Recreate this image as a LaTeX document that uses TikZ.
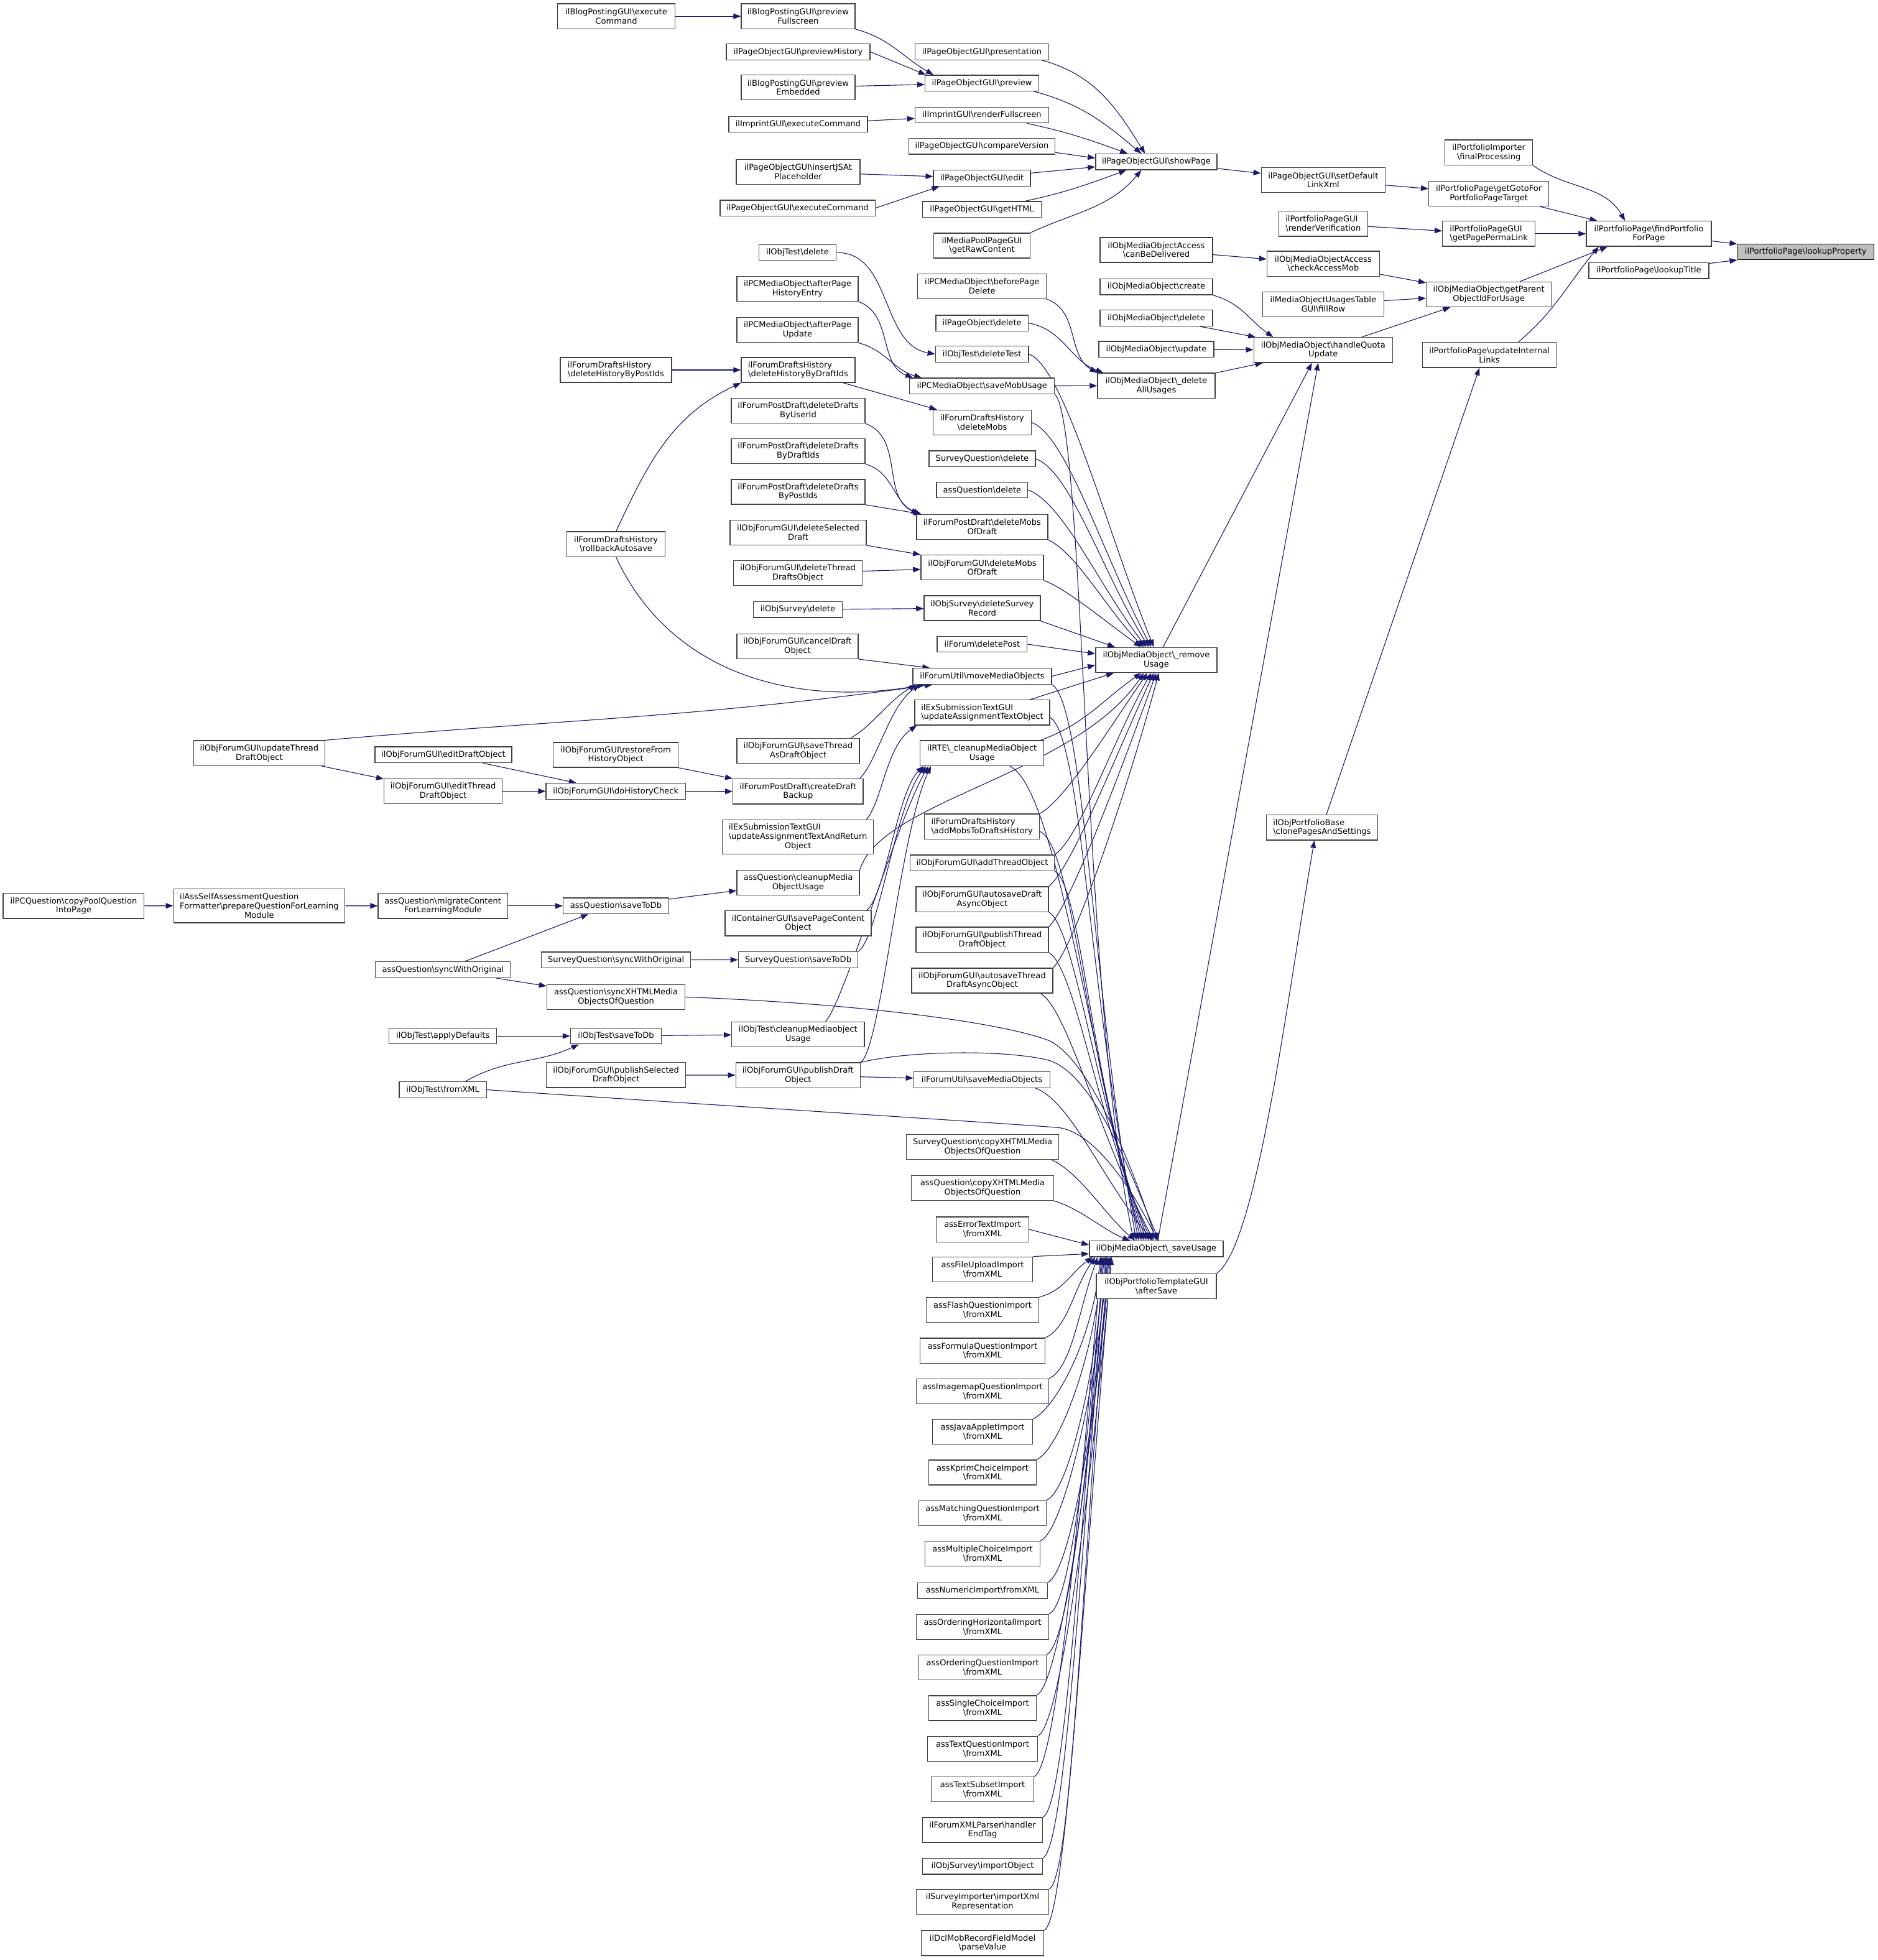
\documentclass[tikz,border=0pt]{standalone}
\usepackage{fontspec}
\setmainfont{DejaVu Sans}
\usetikzlibrary{arrows.meta}
\pgfdeclarelayer{bg}
\pgfdeclarelayer{edges}
\pgfsetlayers{bg,edges,main}
\definecolor{edgec}{HTML}{191970}
\definecolor{boxc}{HTML}{404040}
\definecolor{rootc}{HTML}{BFBFBF}
\newcommand{\BSL}{\textbackslash{}}
\newcommand{\LLn}[2]{\rlap{#1}\phantom{#2}\\#2}
\newcommand{\nd}[6]{\node[bx,#1,minimum width=#5pt] (#2) at (#3,#4) {#6};}
\tikzset{
  bx/.style={draw=boxc, line width=0.65pt, fill=white, font=\fontsize{6.5}{7.3}\selectfont,
    align=center, inner xsep=1pt, inner ysep=0.5pt, text=black},
  h1/.style={minimum height=12.7pt},
  h2/.style={minimum height=20pt},
  h3/.style={minimum height=27.3pt},
  edg/.style={draw=edgec, line width=0.55pt, -{Triangle[length=6pt,width=4.4pt]}},
}
\begin{document}
\begin{tikzpicture}[x=1pt,y=-1pt]
\useasboundingbox (0,0) rectangle (1502,1568);
\begin{pgfonlayer}{bg}
\fill[white] (0,0) rectangle (1502,1568);
\end{pgfonlayer}

% ---------- right cluster
\nd{h1,fill=rootc,draw=black}{lp}{1444.5}{201.5}{109}{ilPortfolioPage\BSL lookupProperty}
\nd{h2}{find}{1319}{187}{100}{ilPortfolioPage\BSL findPortfolio\\ForPage}
\nd{h1}{lt}{1319}{216.5}{96}{ilPortfolioPage\BSL lookupTitle}
\nd{h2}{fp}{1191}{122}{70}{ilPortfolioImporter\\\BSL finalProcessing}
\nd{h2}{gg}{1191}{155}{96}{ilPortfolioPage\BSL getGotoFor\\PortfolioPageTarget}
\nd{h2}{gpl}{1191}{187}{74}{\LLn{ilPortfolioPageGUI}{\BSL getPagePermaLink}}
\nd{h2}{gp}{1191}{235.5}{100}{ilObjMediaObject\BSL getParent\\ObjectIdForUsage}
\nd{h2}{uil}{1191.5}{284}{107}{ilPortfolioPage\BSL updateInternal\\Links}
\nd{h2}{sdl}{1058.5}{144}{99}{ilPageObjectGUI\BSL setDefault\\LinkXml}
\nd{h2}{rv}{1058.5}{179}{71}{\LLn{ilPortfolioPageGUI}{\BSL renderVerification}}
\nd{h2}{cam}{1058.5}{211}{90}{ilObjMediaObjectAccess\\\BSL checkAccessMob}
\nd{h2}{fr}{1058.5}{243.5}{97}{ilMediaObjectUsagesTable\\GUI\BSL fillRow}
\nd{h2}{hq}{1058.5}{280}{111}{ilObjMediaObject\BSL handleQuota\\Update}
\nd{h2}{cps}{1057.5}{662}{89}{\LLn{ilObjPortfolioBase}{\BSL clonePagesAndSettings}}

% ---------- column 925
\nd{h1}{sp}{925}{129.5}{97}{ilPageObjectGUI\BSL showPage}
\nd{h2}{cbd}{925}{200}{90}{ilObjMediaObjectAccess\\\BSL canBeDelivered}
\nd{h1}{cr}{925}{229.5}{90}{ilObjMediaObject\BSL create}
\nd{h1}{dl}{925}{254.5}{90}{ilObjMediaObject\BSL delete}
\nd{h1}{up}{925}{279.5}{92}{ilObjMediaObject\BSL update}
\nd{h2}{da}{925}{308.5}{94}{ilObjMediaObject\BSL\_delete\\AllUsages}
\nd{h2}{rem}{925}{528}{97}{ilObjMediaObject\BSL\_remove\\Usage}
\nd{h1}{sav}{925}{999}{107}{ilObjMediaObject\BSL\_saveUsage}
\nd{h2}{as}{925}{1029}{96}{ilObjPortfolioTemplateGUI\\\BSL afterSave}

% ---------- column 786
\nd{h1}{pres}{785.5}{41.5}{107}{ilPageObjectGUI\BSL presentation}
\nd{h1}{pv}{785.5}{66.5}{91}{ilPageObjectGUI\BSL preview}
\nd{h1}{rf}{785.5}{92}{107}{ilImprintGUI\BSL renderFullscreen}
\nd{h1}{cv}{785.5}{117}{117}{ilPageObjectGUI\BSL compareVersion}
\nd{h1}{ed}{785.5}{142.5}{77.5}{ilPageObjectGUI\BSL edit}
\nd{h1}{gh}{785.5}{167.5}{95}{ilPageObjectGUI\BSL getHTML}
\nd{h2}{rc}{785.5}{196.5}{77}{ilMediaPoolPageGUI\\\BSL getRawContent}
\nd{h2}{bpd}{785.6}{229}{103}{ilPCMediaObject\BSL beforePage\\Delete}
\nd{h1}{pd}{785.6}{258.5}{74}{ilPageObject\BSL delete}
\nd{h1}{dt}{785.6}{283.3}{74.5}{ilObjTest\BSL deleteTest}
\nd{h1}{smu}{785.6}{308.8}{116}{ilPCMediaObject\BSL saveMobUsage}
\nd{h2}{dm}{785.7}{338}{78.5}{ilForumDraftsHistory\\\BSL deleteMobs}
\nd{h1}{sqd}{785.7}{367}{85}{SurveyQuestion\BSL delete}
\nd{h1}{aqd}{785.7}{392}{73}{assQuestion\BSL delete}
\nd{h2}{dmpd}{785.7}{421.5}{105}{ilForumPostDraft\BSL deleteMobs\\OfDraft}
\nd{h2}{dmfg}{785.7}{454}{98}{ilObjForumGUI\BSL deleteMobs\\OfDraft}
\nd{h2}{dsr}{785.7}{486.5}{93}{ilObjSurvey\BSL deleteSurvey\\Record}
\nd{h1}{dp}{785.7}{515.4}{72}{ilForum\BSL deletePost}
\nd{h1}{mmo}{785.7}{541}{111}{ilForumUtil\BSL moveMediaObjects}
\nd{h2}{uat}{785.7}{570}{108}{\LLn{ilExSubmissionTextGUI}{\BSL updateAssignmentTextObject}}
\nd{h2}{cmu}{785.6}{602.5}{99}{ilRTE\BSL\_cleanupMediaObject\\Usage}
\nd{h2}{amd}{785.6}{661.2}{92}{\LLn{ilForumDraftsHistory}{\BSL addMobsToDraftsHistory}}
\nd{h1}{ato}{785.8}{690.3}{115.5}{ilObjForumGUI\BSL addThreadObject}
\nd{h2}{ada}{785.7}{719.4}{106}{ilObjForumGUI\BSL autosaveDraft\\AsyncObject}
\nd{h2}{ptd}{785.7}{751.7}{106}{ilObjForumGUI\BSL publishThread\\DraftObject}
\nd{h2}{ata}{785.7}{784.5}{113}{ilObjForumGUI\BSL autosaveThread\\DraftAsyncObject}
\nd{h1}{smo}{785.5}{863.8}{109}{ilForumUtil\BSL saveMediaObjects}
\nd{h2}{cxs}{786}{917.5}{122}{SurveyQuestion\BSL copyXHTMLMedia\\ObjectsOfQuestion}
\nd{h2}{cxa}{786}{950.5}{114}{assQuestion\BSL copyXHTMLMedia\\ObjectsOfQuestion}
\nd{h2}{aet}{786}{983.5}{74}{assErrorTextImport\\\BSL fromXML}
\nd{h2}{afu}{786}{1015.5}{80}{assFileUploadImport\\\BSL fromXML}
\nd{h2}{afq}{786}{1048}{90}{assFlashQuestionImport\\\BSL fromXML}
\nd{h2}{afo}{786}{1080.5}{100}{assFormulaQuestionImport\\\BSL fromXML}
\nd{h2}{aim}{786}{1113}{106}{assImagemapQuestionImport\\\BSL fromXML}
\nd{h2}{aja}{786}{1145.5}{80}{assJavaAppletImport\\\BSL fromXML}
\nd{h2}{akp}{786}{1178}{86}{assKprimChoiceImport\\\BSL fromXML}
\nd{h2}{ama}{786}{1210.5}{102}{assMatchingQuestionImport\\\BSL fromXML}
\nd{h2}{amc}{786}{1243}{92}{assMultipleChoiceImport\\\BSL fromXML}
\nd{h1}{anu}{786}{1272.5}{104}{assNumericImport\BSL fromXML}
\nd{h2}{aoh}{786}{1301.5}{106}{assOrderingHorizontalImport\\\BSL fromXML}
\nd{h2}{aoq}{786}{1334}{102}{assOrderingQuestionImport\\\BSL fromXML}
\nd{h2}{asc}{786}{1366.5}{86}{assSingleChoiceImport\\\BSL fromXML}
\nd{h2}{atq}{786}{1399}{88}{assTextQuestionImport\\\BSL fromXML}
\nd{h2}{ats}{786}{1431.5}{82}{assTextSubsetImport\\\BSL fromXML}
\nd{h2}{fxp}{786}{1464}{96}{ilForumXMLParser\BSL handler\\EndTag}
\nd{h1}{osi}{786}{1493}{96}{ilObjSurvey\BSL importObject}
\nd{h2}{sim}{786}{1521.5}{106}{ilSurveyImporter\BSL importXml\\Representation}
\nd{h2}{dcl}{786}{1554.5}{98}{ilDclMobRecordFieldModel\\\BSL parseValue}

% ---------- column 638
\nd{h2}{pf}{638.5}{13}{91}{ilBlogPostingGUI\BSL preview\\Fullscreen}
\nd{h1}{ph}{638.5}{41.5}{115}{ilPageObjectGUI\BSL previewHistory}
\nd{h2}{pe}{638.5}{70}{91}{ilBlogPostingGUI\BSL preview\\Embedded}
\nd{h1}{ie}{638.5}{99.5}{111}{ilImprintGUI\BSL executeCommand}
\nd{h2}{ij}{638.5}{137.5}{99}{ilPageObjectGUI\BSL insertJSAt\\Placeholder}
\nd{h1}{pec}{638}{166.5}{124}{ilPageObjectGUI\BSL executeCommand}
\nd{h1}{otd}{638}{202}{62}{ilObjTest\BSL delete}
\nd{h2}{aphe}{638}{231}{97}{ilPCMediaObject\BSL afterPage\\HistoryEntry}
\nd{h2}{apu}{638}{264}{97}{ilPCMediaObject\BSL afterPage\\Update}
\nd{h2}{dhd}{638.5}{296}{91}{\LLn{ilForumDraftsHistory}{\BSL deleteHistoryByDraftIds}}
\nd{h2}{ddu}{638.5}{328.5}{107}{ilForumPostDraft\BSL deleteDrafts\\ByUserId}
\nd{h2}{ddd}{638.5}{361}{107}{ilForumPostDraft\BSL deleteDrafts\\ByDraftIds}
\nd{h2}{ddp}{638.5}{393.5}{107}{ilForumPostDraft\BSL deleteDrafts\\ByPostIds}
\nd{h2}{dsd}{638.5}{426}{109}{ilObjForumGUI\BSL deleteSelected\\Draft}
\nd{h2}{dtd}{638.3}{458.5}{103}{ilObjForumGUI\BSL deleteThread\\DraftsObject}
\nd{h1}{osd}{638.3}{487.6}{71}{ilObjSurvey\BSL delete}
\nd{h2}{cdo}{638}{517}{97}{ilObjForumGUI\BSL cancelDraft\\Object}
\nd{h2}{stad}{638.5}{600.6}{98}{ilObjForumGUI\BSL saveThread\\AsDraftObject}
\nd{h2}{cdb}{638.4}{633.2}{104}{ilForumPostDraft\BSL createDraft\\Backup}
\nd{h3}{uatr}{638.3}{669.5}{121}{\LLn{ilExSubmissionTextGUI}{\BSL updateAssignmentTextAndReturn}\\Object}
\nd{h2}{acmu}{638.5}{706.2}{98}{assQuestion\BSL cleanupMedia\\ObjectUsage}
\nd{h2}{spc}{638.5}{738.6}{117}{ilContainerGUI\BSL savePageContent\\Object}
\nd{h1}{sqsd}{638.5}{767.8}{95.6}{SurveyQuestion\BSL saveToDb}
\nd{h2}{otcm}{638.4}{827.4}{106}{ilObjTest\BSL cleanupMediaobject\\Usage}
\nd{h2}{pdo}{638.4}{860.2}{99.6}{ilObjForumGUI\BSL publishDraft\\Object}

% ---------- column 493
\nd{h2}{be}{493}{13}{94}{ilBlogPostingGUI\BSL execute\\Command}
\nd{h2}{dhp}{492.7}{296}{89}{\LLn{ilForumDraftsHistory}{\BSL deleteHistoryByPostIds}}
\nd{h2}{ra}{492.8}{435.4}{78.5}{ilForumDraftsHistory\\\BSL rollbackAutosave}
\nd{h2}{rfh}{492.6}{603.9}{100}{ilObjForumGUI\BSL restoreFrom\\HistoryObject}
\nd{h1}{dhc}{492.6}{633}{111.6}{ilObjForumGUI\BSL doHistoryCheck}
\nd{h1}{aqsd}{492.7}{724.7}{84.3}{assQuestion\BSL saveToDb}
\nd{h1}{sqs}{492.8}{767.9}{119.3}{SurveyQuestion\BSL syncWithOriginal}
\nd{h2}{sxm}{492.8}{797.6}{110.5}{assQuestion\BSL syncXHTMLMedia\\ObjectsOfQuestion}
\nd{h1}{otsd}{492.7}{828.8}{72.6}{ilObjTest\BSL saveToDb}
\nd{h2}{psd}{492.8}{860}{111.3}{ilObjForumGUI\BSL publishSelected\\DraftObject}

% ---------- column 354
\nd{h1}{edo}{354.7}{603.8}{109.4}{ilObjForumGUI\BSL editDraftObject}
\nd{h2}{etd}{354.5}{633}{94.5}{ilObjForumGUI\BSL editThread\\DraftObject}
\nd{h2}{mc}{354.3}{724.7}{103.6}{assQuestion\BSL migrateContent\\ForLearningModule}
\nd{h1}{aqs}{354.3}{775.8}{108}{assQuestion\BSL syncWithOriginal}
\nd{h1}{ad}{354.3}{828.8}{86}{ilObjTest\BSL applyDefaults}
\nd{h1}{fx}{354.3}{871.8}{70}{ilObjTest\BSL fromXML}

% ---------- columns 207 / 58
\nd{h2}{utd}{207.4}{602.5}{104.8}{ilObjForumGUI\BSL updateThread\\DraftObject}
\nd{h3}{asq}{207.4}{724.6}{137}{\LLn{ilAssSelfAssessmentQuestion}{Formatter\BSL prepareQuestionForLearning}\\Module}
\nd{h2}{cpq}{58.9}{724.7}{112.8}{ilPCQuestion\BSL copyPoolQuestion\\IntoPage}

\begin{pgfonlayer}{edges}
% top-left group
\draw[edg] (be) -- (pf);
\draw[edg] (pf.south east) to[out=-15,in=150] ([xshift=7pt]pv.north west);
\draw[edg] (ph.east) -- ([xshift=1pt]pv.north west);
\draw[edg] (pe) -- (pv);
\draw[edg] (ie) -- (rf);
\draw[edg] (ij) -- (ed);
\draw[edg] (pec.east) -- ([xshift=5pt]ed.south west);
\draw[edg] ([xshift=-6pt]pres.south east) to[out=-15,in=122] ([xshift=-9pt]sp.north);
\draw[edg] ([xshift=-4pt]pv.south east) to[out=-15,in=140] ([xshift=-12pt]sp.north);
\draw[edg] ([xshift=-18pt]rf.south east) to[out=-12,in=160] ([xshift=-23pt]sp.north);
\draw[edg] ([yshift=-5pt]cv.east) -- ([yshift=3pt]sp.west);
\draw[edg] ([yshift=4pt]ed.east) -- ([yshift=-4pt]sp.west);
\draw[edg] ([xshift=-13pt]gh.north east) to[out=12,in=200] ([xshift=-24pt]sp.south);
\draw[edg] (rc.north east) to[out=25,in=230] ([xshift=-12pt]sp.south);
% right cluster
\draw[edg] (sp) -- (sdl);
\draw[edg] (sdl) -- (gg);
\draw[edg] (gg) -- (find);
\draw[edg] (rv) -- (gpl);
\draw[edg] (gpl) -- (find);
\draw[edg] (fp.south east) to[out=-35,in=120] ([xshift=-19pt]find.north);
\draw[edg] (find) -- (lp);
\draw[edg] (lt) -- (lp);
\draw[edg] (cbd) -- (cam);
\draw[edg] (cam) -- (gp);
\draw[edg] (fr) -- (gp);
\draw[edg] (hq) -- (gp);
\draw[edg] ([xshift=25pt]gp.north) -- ([xshift=-33pt]find.south);
\draw[edg] ([xshift=23pt]uil.north) to[out=40,in=230] ([xshift=-40pt]find.south);
\draw[edg] (cps) -- ([xshift=-8pt]uil.south);
\draw[edg] (as.north east) to[out=35,in=-100,out distance=40pt,in distance=120pt] ([xshift=-6pt]cps.south);
\draw[edg] (cr.south east) to[out=-15,in=145] ([xshift=-40pt]hq.north);
\draw[edg] (dl) -- (hq);
\draw[edg] (up) -- (hq);
\draw[edg] (da) -- (hq);
\draw[edg] (rem) -- ([xshift=-9pt]hq.south);
\draw[edg] (sav) -- ([xshift=-4pt]hq.south);
% deleteAllUsages group
\draw[edg] (bpd.south east) to[out=-20,in=150] (da.north west);
\draw[edg] (pd.east) to[out=-10,in=160] ([xshift=5pt]da.north west);
\draw[edg] (smu) -- (da);
\draw[edg] (otd.east) to[out=0,in=170] (dt.west);
\draw[edg] (aphe.south east) to[out=-20,in=160] ([xshift=3pt]smu.north west);
\draw[edg] (apu.south east) to[out=-15,in=165] ([xshift=10pt]smu.north west);
% forum drafts
\draw[edg] (dhp) -- (dhd);
\draw[edg] (ra.north) to[out=65,in=205] (dhd.south west);
\draw[edg] (dhd) -- (dm);
\draw[edg] (ddu.south east) to[out=-20,in=155] ([xshift=2pt]dmpd.north west);
\draw[edg] (ddd.south east) to[out=-15,in=160] ([xshift=4pt]dmpd.north west);
\draw[edg] (ddp.south east) -- ([xshift=4pt]dmpd.north west);
\draw[edg] (dsd.south east) -- (dmfg.north west);
\draw[edg] (dtd) -- (dmfg);
\draw[edg] (osd) -- (dsr);
% moveMediaObjects
\draw[edg] (cdo.south east) -- ([xshift=14pt]mmo.north west);
\draw[edg] (ra.south) to[out=-65,in=190] ([xshift=10pt]mmo.south west);
\draw[edg] (utd.north east) to[out=5,in=188] ([xshift=16pt]mmo.south west);
\draw[edg] ([xshift=-7pt]stad.north east) to[out=30,in=210,out distance=20pt,in distance=25pt] ([xshift=3pt]mmo.south west);
\draw[edg] ([xshift=-3pt]cdb.north east) to[out=45,in=215,out distance=20pt,in distance=30pt] ([xshift=6pt]mmo.south west);
\draw[edg] (rfh.south east) -- (cdb.north west);
\draw[edg] (dhc) -- (cdb);
\draw[edg] (edo) -- (dhc);
\draw[edg] (etd) -- (dhc);
\draw[edg] (utd) -- (etd);
\draw[edg] ([xshift=-6pt]uatr.north east) to[out=50,in=215,out distance=20pt,in distance=30pt] ([xshift=2pt]uat.south west);
% cleanupMediaObjectUsage
\draw[edg] ([xshift=-4pt]spc.north east) to[out=40,in=225,out distance=20pt,in distance=30pt] ([xshift=3pt]cmu.south west);
\draw[edg] (sqsd.north east) to[out=35,in=232,out distance=20pt,in distance=40pt] ([xshift=5pt]cmu.south west);
\draw[edg] ([xshift=22pt]otcm.north) to[out=45,in=240,out distance=20pt,in distance=50pt] ([xshift=7pt]cmu.south west);
\draw[edg] (pdo.north east) to[out=35,in=245,out distance=20pt,in distance=60pt] ([xshift=9pt]cmu.south west);
% left tree
\draw[edg] (pdo) -- (smo);
\draw[edg] (psd) -- (pdo);
\draw[edg] (sqs) -- (sqsd);
\draw[edg] (ad) -- (otsd);
\draw[edg] ([xshift=18pt]fx.north) to[out=30,in=205] ([xshift=7pt]otsd.south west);
\draw[edg] (otsd) -- (otcm);
\draw[edg] (aqsd) -- (acmu);
\draw[edg] (mc) -- (aqsd);
\draw[edg] (aqs) -- ([xshift=-22pt]aqsd.south);
\draw[edg] (aqs) -- (sxm);
\draw[edg] (cpq) -- (asq);
\draw[edg] (asq) -- (mc);
% _removeUsage fan-in
\draw[edg] (dt.east) to[out=-20,in=112,out distance=30pt,in distance=100pt] ([xshift=-2pt]rem.north);
\draw[edg] (dm.east) to[out=-20,in=118,out distance=30pt,in distance=80pt] ([xshift=-4pt]rem.north);
\draw[edg] (sqd.east) to[out=-20,in=122,out distance=30pt,in distance=70pt] ([xshift=-6pt]rem.north);
\draw[edg] (aqd.east) to[out=-20,in=128,out distance=30pt,in distance=60pt] ([xshift=-8pt]rem.north);
\draw[edg] (dmpd.south east) to[out=-25,in=135,out distance=25pt,in distance=40pt] ([xshift=-10pt]rem.north);
\draw[edg] (dmfg.south east) to[out=-20,in=145,out distance=20pt,in distance=30pt] ([xshift=-12pt]rem.north);
\draw[edg] (dsr.south east) -- ([xshift=-33pt]rem.north);
\draw[edg] (dp.east) -- ([yshift=5pt]rem.west);
\draw[edg] (mmo.east) -- ([yshift=-4pt]rem.west);
\draw[edg] ([xshift=-16pt]uat.north east) -- ([xshift=-34pt]rem.south);
\draw[edg] ([xshift=-3pt]cmu.north east) to[out=20,in=215] ([xshift=-12pt]rem.south);
\draw[edg] (acmu.north east) .. controls (705,640) and (860,620) .. ([xshift=-10pt]rem.south);
\draw[edg] (amd.north east) to[out=30,in=235,out distance=25pt,in distance=50pt] ([xshift=-7pt]rem.south);
\draw[edg] (ato.north east) to[out=35,in=240,out distance=25pt,in distance=60pt] ([xshift=-4pt]rem.south);
\draw[edg] (ada.north east) to[out=40,in=245,out distance=25pt,in distance=70pt] ([xshift=-2pt]rem.south);
\draw[edg] (ptd.north east) to[out=45,in=250,out distance=25pt,in distance=80pt] (rem.south);
\draw[edg] (ata.north east) to[out=45,in=255,out distance=25pt,in distance=90pt] ([xshift=2pt]rem.south);
% _saveUsage fan-in from above
\draw[edg] (smu.south east) .. controls (868,340) and (866,800) .. ([xshift=-18pt]sav.north);
\draw[edg] (mmo.south east) to[out=-30,in=100,out distance=30pt,in distance=200pt] ([xshift=-16pt]sav.north);
\draw[edg] ([yshift=-4pt]uat.east) to[out=-30,in=102,out distance=30pt,in distance=190pt] ([xshift=-14pt]sav.north);
\draw[edg] ([xshift=22pt]cmu.south) to[out=-25,in=105,out distance=40pt,in distance=170pt] ([xshift=-12pt]sav.north);
\draw[edg] ([yshift=-4pt]amd.east) to[out=-25,in=108,out distance=30pt,in distance=150pt] ([xshift=-10pt]sav.north);
\draw[edg] (ato.south east) to[out=-30,in=110,out distance=25pt,in distance=130pt] ([xshift=-8pt]sav.north);
\draw[edg] (ada.south east) to[out=-30,in=112,out distance=25pt,in distance=110pt] ([xshift=-6pt]sav.north);
\draw[edg] (ptd.south east) to[out=-30,in=115,out distance=25pt,in distance=100pt] ([xshift=-4pt]sav.north);
\draw[edg] ([xshift=-10pt]ata.south east) to[out=-30,in=118,out distance=25pt,in distance=90pt] ([xshift=-2pt]sav.north);
\draw[edg] (sxm.east) .. controls (690,803) and (800,818) .. (838,832) .. controls (870,845) and (905,930) .. (sav.north);
\draw[edg] (pdo.north east) .. controls (730,840) and (805,840) .. (838,848) .. controls (875,858) and (905,940) .. ([xshift=2pt]sav.north);
\draw[edg] ([xshift=-12pt]smo.south east) to[out=-20,in=130,out distance=30pt,in distance=60pt] ([xshift=-3pt]sav.north);
\draw[edg] (fx.east) .. controls (600,886) and (780,897) .. (846,902) .. controls (875,905) and (905,950) .. ([xshift=1pt]sav.north);
\draw[edg] ([xshift=-6pt]cxs.south east) to[out=-25,in=140,out distance=25pt,in distance=30pt] ([xshift=-17pt]sav.north);
\draw[edg] (cxa.south east) to[out=-15,in=160,out distance=20pt,in distance=20pt] ([xshift=-21pt]sav.north);
\draw[edg] (aet.east) -- ([yshift=3pt]sav.west);
\draw[edg] (afu.north east) -- ([yshift=-4pt]sav.west);
% importers from below
\draw[edg] (afq.north east) to[out=15,in=215] ([xshift=3pt]sav.south west);
\draw[edg] (afo.north east) to[out=25,in=235,out distance=20pt,in distance=30pt] ([xshift=5pt]sav.south west);
\draw[edg] (aim.north east) to[out=25,in=250,out distance=20pt,in distance=45pt] ([xshift=7pt]sav.south west);
\draw[edg] (aja.north east) to[out=25,in=265,out distance=20pt,in distance=65pt] ([xshift=9pt]sav.south west);
\draw[edg] (akp.north east) to[out=25,in=265,out distance=20pt,in distance=80pt] ([xshift=11pt]sav.south west);
\draw[edg] (ama.north east) to[out=25,in=265,out distance=20pt,in distance=95pt] ([xshift=13pt]sav.south west);
\draw[edg] (amc.north east) to[out=25,in=265,out distance=20pt,in distance=110pt] ([xshift=15pt]sav.south west);
\draw[edg] (anu.north east) to[out=25,in=265,out distance=20pt,in distance=125pt] ([xshift=17pt]sav.south west);
\draw[edg] (aoh.north east) to[out=25,in=265,out distance=20pt,in distance=140pt] ([xshift=12pt]sav.south west);
\draw[edg] (aoq.north east) to[out=25,in=265,out distance=20pt,in distance=155pt] ([xshift=14pt]sav.south west);
\draw[edg] (asc.north east) to[out=25,in=265,out distance=20pt,in distance=170pt] ([xshift=16pt]sav.south west);
\draw[edg] (atq.north east) to[out=25,in=265,out distance=20pt,in distance=185pt] ([xshift=18pt]sav.south west);
\draw[edg] (ats.north east) to[out=25,in=265,out distance=20pt,in distance=200pt] ([xshift=10pt]sav.south west);
\draw[edg] (fxp.north east) to[out=25,in=265,out distance=20pt,in distance=215pt] ([xshift=12pt]sav.south west);
\draw[edg] (osi.north east) to[out=25,in=265,out distance=20pt,in distance=230pt] ([xshift=14pt]sav.south west);
\draw[edg] (sim.north east) to[out=25,in=265,out distance=20pt,in distance=245pt] ([xshift=16pt]sav.south west);
\draw[edg] (dcl.north east) to[out=25,in=265,out distance=20pt,in distance=260pt] ([xshift=18pt]sav.south west);
\end{pgfonlayer}
\end{tikzpicture}
\end{document}
